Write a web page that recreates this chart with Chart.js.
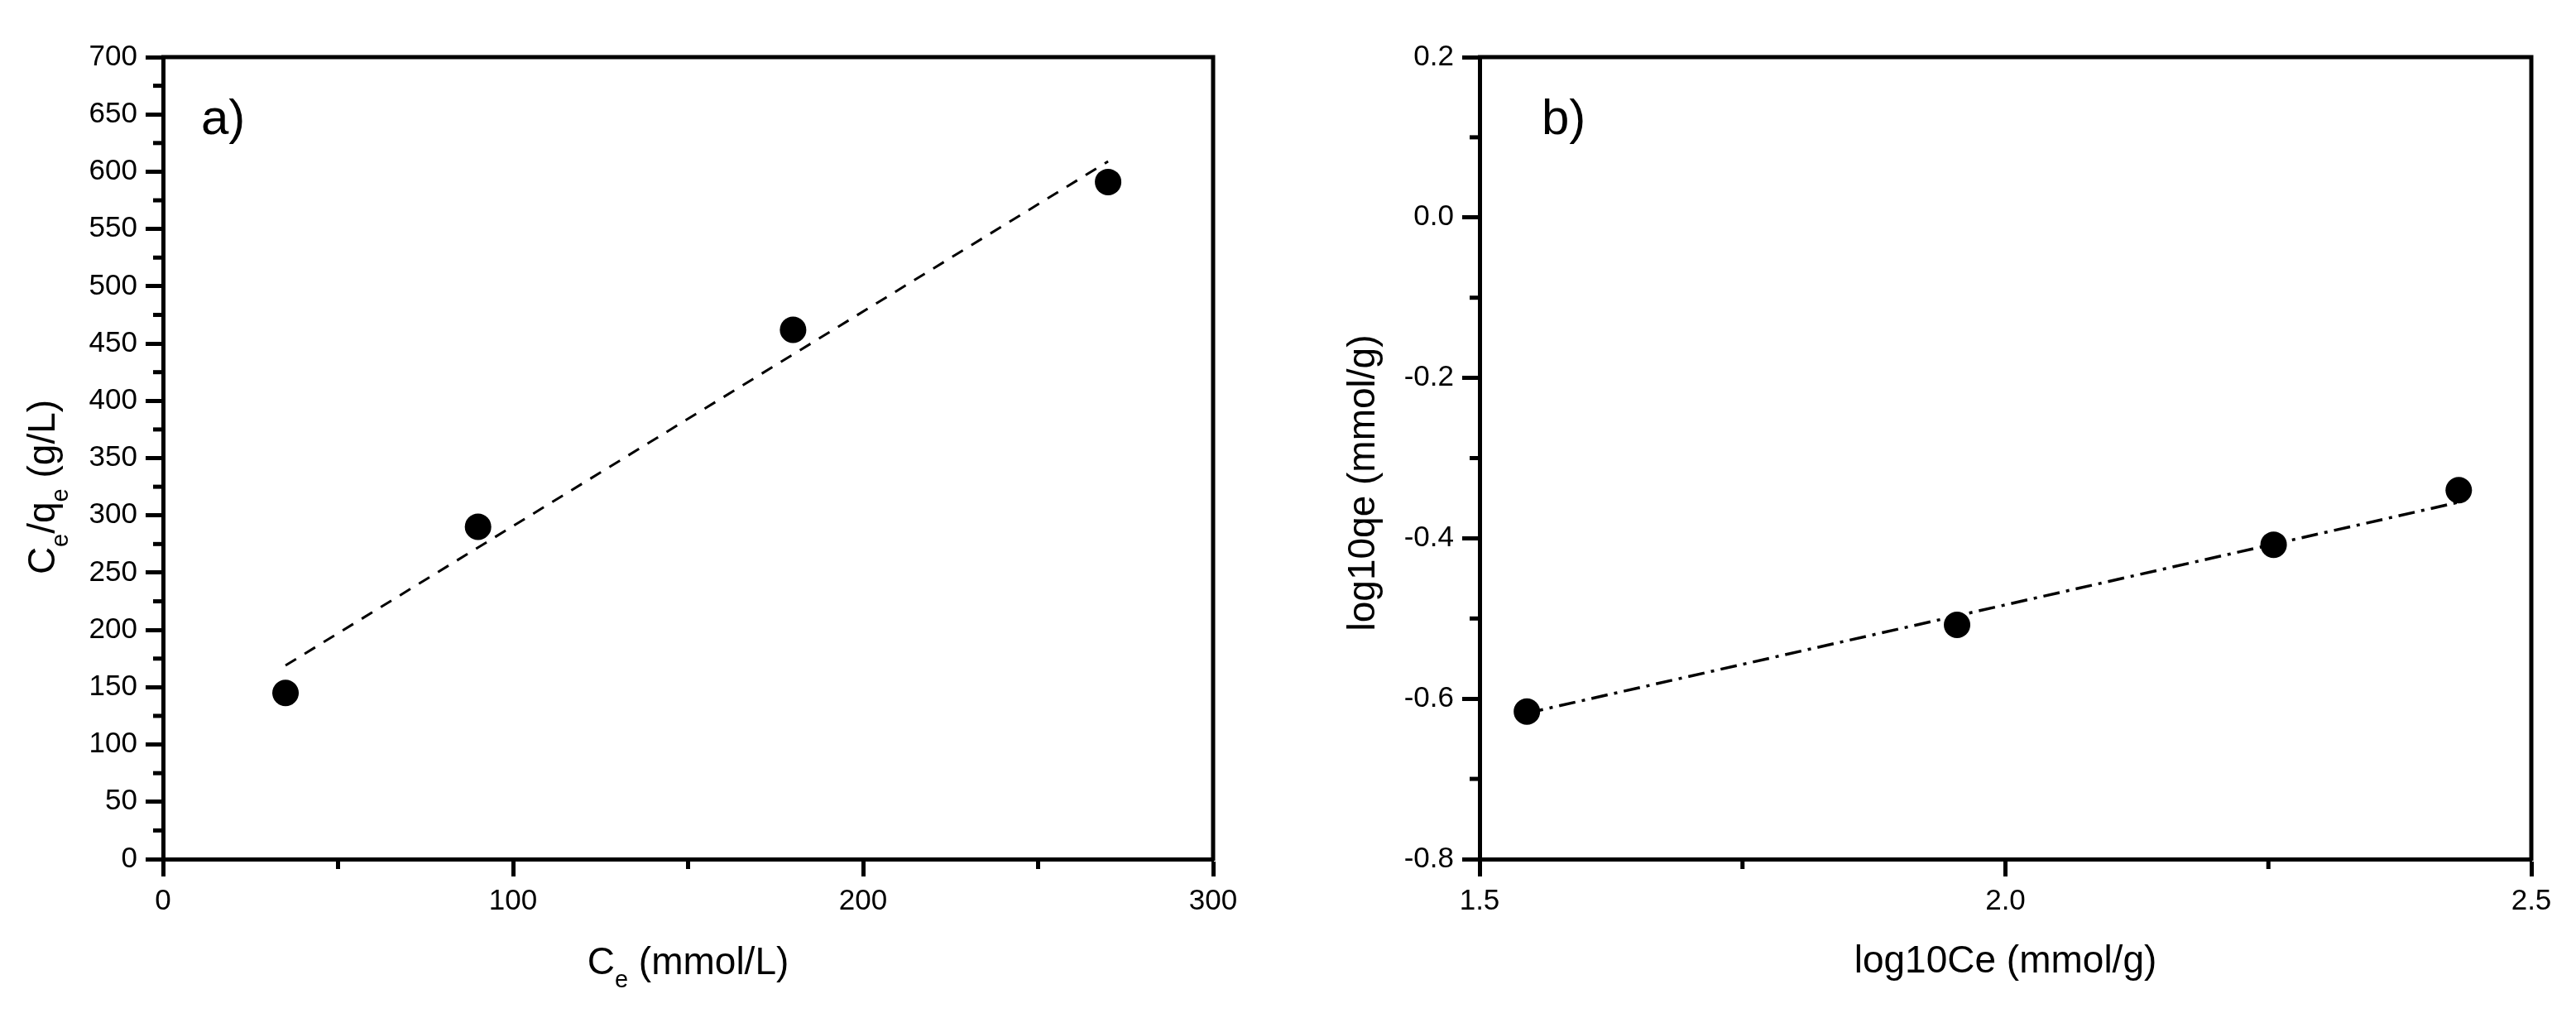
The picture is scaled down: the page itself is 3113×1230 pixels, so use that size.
<!DOCTYPE html>
<html>
<head>
<meta charset="utf-8">
<script src="https://cdn.jsdelivr.net/npm/chart.js@4.4.1/dist/chart.umd.min.js"></script>
<style>
  html, body { margin: 0; padding: 0; background: #fff; }
  #wrap { position: relative; width: 3113px; height: 1230px; background: #fff; }
  canvas { position: absolute; top: 0; }
  #chartA { left: 0; }
  #chartB { left: 1556px; }
</style>
</head>
<body>
<div id="wrap">
  <canvas id="chartA" width="1556" height="1230"></canvas>
  <canvas id="chartB" width="1557" height="1230"></canvas>
</div>
<script>
// a) Ce - Ce/qe
const ceA = [35, 90, 180, 270];
const ceQeA = [145, 290, 462, 591];
// 拟合线两端
const fitAx = [35, 270];
const fitAy = [169, 609];

// b) log10Ce - log10qe
const logCe = [1.545, 1.954, 2.255, 2.431];
const logQe = [-0.616, -0.508, -0.408, -0.340];
const fitBx = [1.545, 2.431];
const fitBy = [-0.618, -0.355];

// 刻度
const xTicksA = [0, 100, 200, 300];
const yTicksA = [0, 50, 100, 150, 200, 250, 300, 350, 400, 450, 500, 550, 600, 650, 700];
const xTicksB = [1.5, 2.0, 2.5];
const yTicksB = [-0.8, -0.6, -0.4, -0.2, 0.0, 0.2];

const FONT = "'Liberation Sans', Arial, sans-serif";
const LW = 5;

// 带下标的标题
function drawParts(ctx, parts, size) {
    const subSize = Math.round(size * 0.62);
    let total = 0;
    const widths = parts.map(p => {
        ctx.font = (p.sub ? subSize : size) + 'px ' + FONT;
        const w = ctx.measureText(p.t).width;
        total += w;
        return w;
    });
    let x = -total / 2;
    parts.forEach((p, i) => {
        ctx.font = (p.sub ? subSize : size) + 'px ' + FONT;
        ctx.fillText(p.t, x, p.sub ? size * 0.35 : 0);
        x += widths[i];
    });
}

const decor = {
    id: 'decor',
    afterDraw(chart, args, opts) {
        const ctx = chart.ctx;
        const ca = chart.chartArea;
        ctx.save();
        ctx.strokeStyle = '#000';
        ctx.fillStyle = '#000';
        ctx.lineWidth = LW;

        // 上、右边框
        ctx.beginPath();
        ctx.moveTo(ca.left - 2, ca.top);
        ctx.lineTo(ca.right, ca.top);
        ctx.lineTo(ca.right, ca.bottom + 2);
        ctx.stroke();

        // 次刻度
        ['x', 'y'].forEach(id => {
            const s = chart.scales[id];
            const vals = s.ticks.map(t => t.value);
            for (let i = 0; i < vals.length - 1; i++) {
                const p = s.getPixelForValue((vals[i] + vals[i + 1]) / 2);
                ctx.beginPath();
                if (id === 'x') {
                    ctx.moveTo(p, ca.bottom);
                    ctx.lineTo(p, ca.bottom + 12);
                } else {
                    ctx.moveTo(ca.left - 12, p);
                    ctx.lineTo(ca.left, p);
                }
                ctx.stroke();
            }
        });

        ctx.textAlign = 'left';
        ctx.textBaseline = 'alphabetic';

        ctx.save();
        ctx.translate((ca.left + ca.right) / 2, ca.bottom + opts.xTitleDy);
        drawParts(ctx, opts.xTitle, 46);
        ctx.restore();

        ctx.save();
        ctx.translate(ca.left - opts.yTitleDx, (ca.top + ca.bottom) / 2 + opts.yTitleDy);
        ctx.rotate(-Math.PI / 2);
        drawParts(ctx, opts.yTitle, 46);
        ctx.restore();

        ctx.font = '60px ' + FONT;
        ctx.fillText(opts.tag, ca.left + opts.tagDx, ca.top + 93);
        ctx.restore();
    }
};

function makeScale(min, max, ticksArr, decimals, pad, fit) {
    return {
        type: 'linear',
        min: min,
        max: max,
        afterBuildTicks: s => { s.ticks = ticksArr.map(v => ({ value: v })); },
        afterFit: fit,
        ticks: {
            autoSkip: false,
            maxRotation: 0,
            color: '#000',
            padding: pad,
            font: { family: FONT, size: 35 },
            callback: v => decimals ? v.toFixed(1) : v
        },
        grid: {
            drawOnChartArea: false,
            drawTicks: true,
            tickLength: 21,
            tickWidth: LW,
            tickColor: '#000',
            color: '#000'
        },
        border: { display: true, color: '#000', width: LW }
    };
}

function pointSet(xs, ys) {
    return {
        data: xs.map((x, i) => ({ x: x, y: ys[i] })),
        showLine: false,
        pointRadius: 16,
        pointHoverRadius: 16,
        pointBackgroundColor: '#000',
        pointBorderWidth: 0
    };
}

function lineSet(xs, ys, dash, width) {
    return {
        data: xs.map((x, i) => ({ x: x, y: ys[i] })),
        showLine: true,
        pointRadius: 0,
        borderColor: '#000',
        borderWidth: width,
        borderDash: dash,
        borderCapStyle: 'butt'
    };
}

// 图 a
new Chart(document.getElementById('chartA').getContext('2d'), {
    type: 'scatter',
    data: {
        datasets: [
            pointSet(ceA, ceQeA),
            lineSet(fitAx, fitAy, [15, 12], 3)
        ]
    },
    options: {
        responsive: false,
        animation: false,
        devicePixelRatio: 1,
        layout: { padding: { top: 69, right: 90, left: 0, bottom: 0 } },
        scales: {
            x: makeScale(0, 300, xTicksA, false, 9, s => { s.height = 192; }),
            y: makeScale(0, 700, yTicksA, false, 10, s => { s.width = 197; })
        },
        plugins: {
            legend: { display: false },
            tooltip: { enabled: false },
            decor: {
                tag: 'a)', tagDx: 46,
                xTitle: [{ t: 'C' }, { t: 'e', sub: true }, { t: ' (mmol/L)' }],
                xTitleDy: 139,
                yTitle: [{ t: 'C' }, { t: 'e', sub: true }, { t: '/q' }, { t: 'e', sub: true }, { t: ' (g/L)' }],
                yTitleDx: 131, yTitleDy: 35
            }
        }
    },
    plugins: [decor]
});

// 图 b
new Chart(document.getElementById('chartB').getContext('2d'), {
    type: 'scatter',
    data: {
        datasets: [
            pointSet(logCe, logQe),
            lineSet(fitBx, fitBy, [20, 8, 4, 8], 3.5)
        ]
    },
    options: {
        responsive: false,
        animation: false,
        devicePixelRatio: 1,
        layout: { padding: { top: 69, right: 54, left: 0, bottom: 0 } },
        scales: {
            x: makeScale(1.5, 2.5, xTicksB, true, 9, s => { s.height = 192; }),
            y: makeScale(-0.8, 0.2, yTicksB, true, 10, s => { s.width = 232; })
        },
        plugins: {
            legend: { display: false },
            tooltip: { enabled: false },
            decor: {
                tag: 'b)', tagDx: 75,
                xTitle: [{ t: 'log10Ce (mmol/g)' }],
                xTitleDy: 137,
                yTitle: [{ t: 'log10qe (mmol/g)' }],
                yTitleDx: 127, yTitleDy: 30
            }
        }
    },
    plugins: [decor]
});
</script>
</body>
</html>
